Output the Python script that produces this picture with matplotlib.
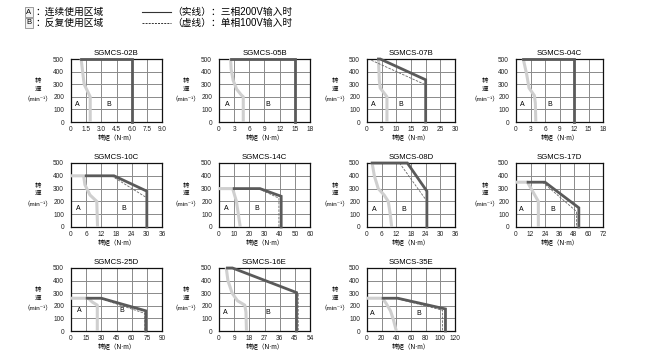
import matplotlib
matplotlib.use('Agg')
import matplotlib.pyplot as plt
from matplotlib.lines import Line2D
from matplotlib.ticker import MultipleLocator, FuncFormatter

plt.rcParams['font.family'] = ['Liberation Sans', 'Noto Sans CJK SC', 'DejaVu Sans']

# ---- data ----
models = ['SGMCS-02B', 'SGMCS-05B', 'SGMCS-07B', 'SGMCS-04C',
          'SGMCS-10C', 'SGMCS-14C', 'SGMCS-08D', 'SGMCS-17D',
          'SGMCS-25D', 'SGMCS-16E', 'SGMCS-35E']
x_max = [9, 18, 30, 18, 36, 60, 36, 72, 90, 54, 120]
x_step = [1.5, 3, 5, 3, 6, 10, 6, 12, 15, 9, 20]

# continuous-use boundary (light grey)
cont_x = [[1.0, 1.3, 1.9, 1.9],
          [2.3, 2.4, 2.8, 3.5, 4.4, 4.8, 4.8],
          [3.9, 4.2, 4.5, 6.8, 6.8],
          [1.5, 2.2, 2.7, 3.8, 4.0, 4.1],
          [0, 5, 5.5, 7.5, 10.2, 10.5],
          [0, 9, 11.5, 14],
          [2.1, 3, 4.6, 7, 8.7, 9.5, 10.1],
          [0, 9.5, 18.5, 18.5],
          [0, 17, 21, 26, 26],
          [4.3, 5.3, 7.8, 11, 15.3, 16, 16.3],
          [0, 21, 26, 32, 36, 40]]
cont_y = [[500, 300, 200, 0],
          [500, 420, 330, 260, 215, 200, 0],
          [500, 330, 270, 200, 0],
          [500, 380, 270, 210, 150, 0],
          [400, 400, 330, 250, 200, 0],
          [300, 300, 200, 0],
          [500, 400, 300, 250, 200, 100, 0],
          [350, 350, 200, 0],
          [260, 260, 230, 205, 0],
          [500, 400, 300, 240, 205, 150, 0],
          [260, 260, 220, 160, 90, 0]]

# 200V three-phase limit (solid)
solid_x = [[1.0, 6, 6], [2.3, 15, 15], [3.9, 4.5, 20, 20], [1.5, 12, 12],
           [6, 17, 30, 30], [10, 27, 41, 41], [2.1, 16.5, 24.5, 24.5],
           [10, 24, 52, 52], [16, 30, 74, 74], [5, 8, 46, 46],
           [22, 42, 107, 107]]
solid_y = [[500, 500, 0], [500, 500, 0], [500, 500, 335, 0], [500, 500, 0],
           [400, 400, 280, 0], [300, 300, 240, 0], [500, 500, 280, 0],
           [350, 350, 150, 0], [260, 260, 160, 0], [500, 500, 305, 0],
           [260, 260, 175, 0]]

# 100V single-phase limit (dashed)
dash_x = [[], [], [1.5, 19.5], [], [16, 30], [26, 39.5, 39.5], [13.3, 24],
          [22, 50, 50], [30, 73, 73], [8, 47, 47], [42, 103, 103]]
dash_y = [[], [], [490, 300], [], [400, 228], [300, 225, 0], [500, 215],
          [350, 122, 0], [255, 140, 0], [500, 300, 0], [255, 165, 0]]

# positions of the "A" / "B" region labels (data coords)
a_x = [0.66, 1.6, 2.0, 1.2, 2.9, 4.8, 2.9, 4.2, 7.8, 3.9, 7]
b_x = [3.75, 9.7, 11.5, 7, 21, 25, 15, 30.5, 50, 29, 70]
ab_y = [135, 135, 135, 135, 148, 148, 137, 140, 160, 146, 141]

# ---- layout (pixels of the 647x356 picture) ----
W, H = 647, 356
col_left = [71, 219, 367, 516]
col_w = [91, 91, 88, 87]
row_top = [59, 163, 268]
row_bot = [122, 227, 331]

fig = plt.figure(figsize=(W / 100, H / 100), dpi=100)

DARK = '#5a5a5a'
LIGHT = '#cfcfcf'
GRID = '#8a8a8a'


def fmt_factory(step):
    def f(v, pos):
        if abs(v) < 1e-9:
            return '0'
        if step != int(step):
            return '%.1f' % v
        return '%d' % round(v)
    return f


for i, name in enumerate(models):
    r, c = divmod(i, 4)
    left = col_left[c] / W
    bottom = 1 - row_bot[r] / H
    height = (row_bot[r] - row_top[r]) / H
    ax = fig.add_axes([left, bottom, col_w[c] / W, height])

    ax.set_xlim(0, x_max[i])
    ax.set_ylim(0, 500)
    ax.xaxis.set_major_locator(MultipleLocator(x_step[i]))
    ax.yaxis.set_major_locator(MultipleLocator(100))
    ax.xaxis.set_major_formatter(FuncFormatter(fmt_factory(x_step[i])))
    ax.grid(True, color=GRID, lw=0.7)
    ax.set_axisbelow(True)
    ax.tick_params(length=0, labelsize=4.7, colors='#222222')
    ax.tick_params(axis='x', pad=3)
    ax.tick_params(axis='y', pad=5)
    for sp in ax.spines.values():
        sp.set_color('#111111')
        sp.set_linewidth(0.9)

    ax.plot(cont_x[i], cont_y[i], color=LIGHT, lw=2.2, solid_capstyle='butt',
            clip_on=False, zorder=3)
    if dash_x[i]:
        ax.plot(dash_x[i], dash_y[i], color='#666666', lw=0.6, ls=(0, (3, 1.5)),
                clip_on=False, zorder=4)
    ax.plot(solid_x[i], solid_y[i], color=DARK, lw=2.0, solid_joinstyle='miter',
            clip_on=False, zorder=5)

    ax.text(a_x[i], ab_y[i], 'A', fontsize=5, ha='center', va='center', zorder=6)
    ax.text(b_x[i], ab_y[i], 'B', fontsize=5, ha='center', va='center', zorder=6)

    ax.set_title(name, fontsize=5.6, pad=3)
    ax.set_xlabel('转矩（N·m）', fontsize=4.7, labelpad=1.2)

    ax.text(-0.36, 0.58, '转\n速', transform=ax.transAxes, fontsize=4.7,
            ha='center', va='center', linespacing=1.0)
    ax.text(-0.36, 0.36, '（min⁻¹）', transform=ax.transAxes, fontsize=4.6,
            ha='center', va='center')

# ---- legend block at top left ----
for ypx, letter, txt in [(12, 'A', '：连续使用区域'), (23, 'B', '：反复使用区域')]:
    fig.text(29 / W, 1 - ypx / H, letter, fontsize=5.5, ha='center', va='center',
             bbox=dict(boxstyle='square,pad=0.15', fc='#f2f2f2', ec='#777777', lw=0.5))
    fig.text(35 / W, 1 - ypx / H, txt, fontsize=7, ha='left', va='center')

fig.add_artist(Line2D([142 / W, 171 / W], [1 - 12 / H, 1 - 12 / H],
                      color='#333333', lw=0.8))
fig.add_artist(Line2D([142 / W, 171 / W], [1 - 23 / H, 1 - 23 / H],
                      color='#333333', lw=0.7, ls=(0, (2, 1.2))))
fig.text(172 / W, 1 - 12 / H, '（实线）：三相200V输入时', fontsize=7,
         ha='left', va='center')
fig.text(172 / W, 1 - 23 / H, '（虚线）：单相100V输入时', fontsize=7,
         ha='left', va='center')

fig.savefig('out.png', dpi=100)
